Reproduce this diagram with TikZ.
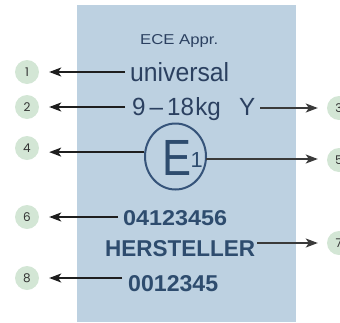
\documentclass[tikz,border=0pt]{standalone}
\usepackage{fontspec}
\usepackage{graphicx}
\setmainfont{Liberation Sans}
\newfontfamily\numfont{Poppins}
\usetikzlibrary{arrows.meta,shapes.geometric}
\definecolor{lbl}{HTML}{BDD1E1}
\definecolor{ink}{HTML}{2B4060}
\definecolor{inkb}{HTML}{2E4C6E}
\definecolor{ringc}{HTML}{36547A}
\definecolor{bub}{HTML}{D3E6D5}
\definecolor{num}{HTML}{333333}
\definecolor{arrc}{HTML}{1E1E1E}
\definecolor{arrr}{HTML}{3A3A3A}
\begin{document}
\begin{tikzpicture}[x=1pt,y=-1pt,
  txt/.style={inner sep=0pt, anchor=base west, text=ink},
  btxt/.style={txt, text=inkb, font=\bfseries},
  bubble/.style={circle, fill=bub, minimum size=24pt, inner sep=0pt, text=num,
    font=\numfont\fontsize{12}{12}\selectfont},
  arr/.style={draw=arrc, line width=1.4pt, -{Stealth[length=12pt,width=9pt,inset=3pt]}},
  arrR/.style={arr, draw=arrr},
]
\useasboundingbox (0,0) rectangle (340,322);
\fill[lbl] (77,5) rectangle (296,322);

% label texts
\node[txt] (ece) at (140,44) {\resizebox{78pt}{10pt}{ECE Appr.}};
\node[txt] (univ) at (130,81) {\resizebox{99pt}{19pt}{universal}};
\node[txt] (kg) at (132,115) {\resizebox{123pt}{18pt}{9\,–\,18\kern0.5pt kg\hspace{0.75em}Y}};
\node[ellipse, draw=ringc, line width=2pt, minimum width=61pt, minimum height=66pt, inner sep=0pt] (seal) at (175.5,156.5) {};
\node[txt, text=inkb] (bigE) at (162.5,175) {\resizebox{29pt}{35pt}{E}};
\node[txt, text=inkb] (one) at (190.5,167) {\resizebox{!}{15pt}{1}};
\node[btxt] (num1) at (123,225) {\resizebox{104pt}{15pt}{04123456}};
\node[btxt] (hers) at (105,256) {\resizebox{150pt}{16pt}{HERSTELLER}};
\node[btxt] (num2) at (128,291) {\resizebox{90pt}{16pt}{0012345}};
\coordinate (s5) at (205.5,159);

% numbered bubbles
\node[bubble] (c1) at (27,72) {1};
\node[bubble] (c2) at (27,107) {2};
\node[bubble] (c4) at (27,148) {4};
\node[bubble] (c6) at (27,217) {6};
\node[bubble] (c8) at (27,278) {8};
\node[bubble] (c3) at (339,108) {3};
\node[bubble] (c5) at (339,160) {5};
\node[bubble] (c7) at (339,243) {7};

% connectors
\draw[arr, shorten <=5pt, shorten >=10pt] (univ.west |- c1) -- (c1.east);
\draw[arr, shorten <=7pt, shorten >=10pt] (kg.west |- c2) -- (c2.east);
\draw[arr, shorten >=10pt] (seal.172) -- (seal.172 -| c4.east);
\draw[arr, shorten <=5pt, shorten >=10pt] (num1.west |- c6) -- (c6.east);
\draw[arr, shorten <=6pt, shorten >=10pt] (num2.west |- c8) -- (c8.east);
\draw[arrR, shorten <=5pt, shorten >=9pt] (kg.east |- c3) -- (c3.west);
\draw[arrR, line width=1.6pt, shorten >=9pt] (s5) -- (s5 -| c5.west);
\draw[arrR, shorten <=2pt, shorten >=9pt] (hers.east |- c7) -- (c7.west);
\end{tikzpicture}
\end{document}
